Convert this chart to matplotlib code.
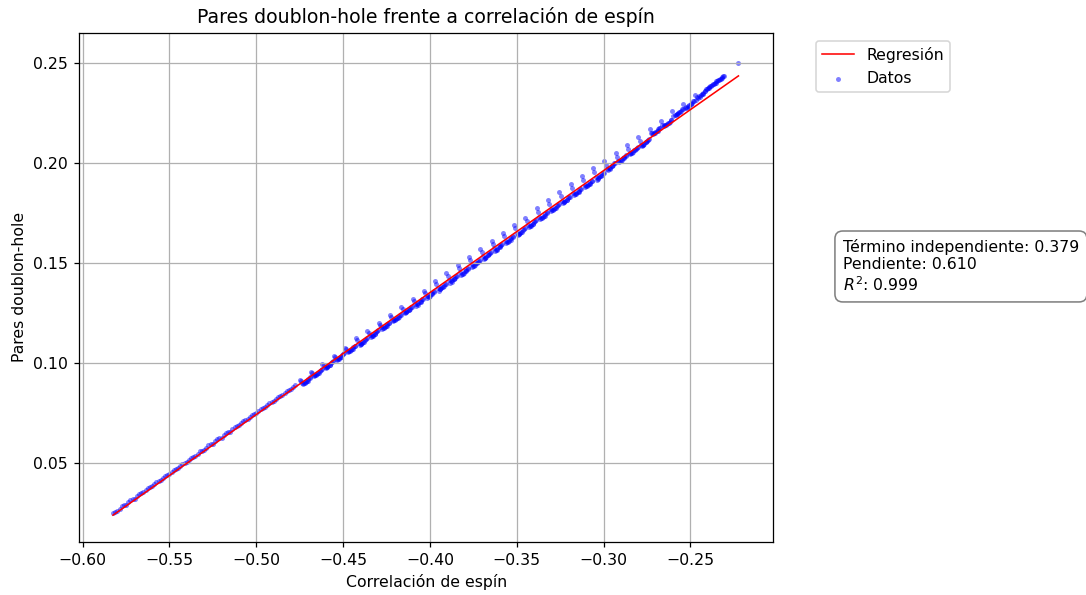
import matplotlib
matplotlib.use("Agg")
import matplotlib.pyplot as plt
import numpy as np

# --- Data ---
corr_espin = [
    -0.5825, -0.5800, -0.5775, -0.5750, -0.5725, -0.5700, -0.5675, -0.5650, -0.5625, -0.5600,
    -0.5575, -0.5550, -0.5525, -0.5500, -0.5475, -0.5450, -0.5425, -0.5400, -0.5375, -0.5350,
    -0.5325, -0.5300, -0.5275, -0.5250, -0.5225, -0.5200, -0.5175, -0.5150, -0.5125, -0.5100,
    -0.5075, -0.5050, -0.5025, -0.5000, -0.4975, -0.4950, -0.4925, -0.4900, -0.4875, -0.4850,
    -0.4825, -0.4800, -0.4775,
    -0.4750, -0.4742, -0.4734, -0.4724, -0.4716, -0.4708, -0.4700, -0.4693,
    -0.4685, -0.4677, -0.4669, -0.4659, -0.4651, -0.4643, -0.4635, -0.4628,
    -0.4620, -0.4612, -0.4604, -0.4594, -0.4586, -0.4578, -0.4570, -0.4563,
    -0.4555, -0.4547, -0.4539, -0.4529, -0.4521, -0.4513, -0.4505, -0.4498,
    -0.4490, -0.4482, -0.4474, -0.4464, -0.4456, -0.4448, -0.4440, -0.4433,
    -0.4425, -0.4417, -0.4409, -0.4399, -0.4391, -0.4383, -0.4375, -0.4368,
    -0.4360, -0.4352, -0.4344, -0.4334, -0.4326, -0.4318, -0.4310, -0.4303,
    -0.4295, -0.4287, -0.4279, -0.4269, -0.4261, -0.4253, -0.4245, -0.4238,
    -0.4230, -0.4222, -0.4214, -0.4204, -0.4196, -0.4188, -0.4180, -0.4173,
    -0.4165, -0.4157, -0.4149, -0.4139, -0.4131, -0.4123, -0.4115, -0.4108,
    -0.4100, -0.4092, -0.4084, -0.4074, -0.4066, -0.4058, -0.4050, -0.4043,
    -0.4035, -0.4027, -0.4019, -0.4009, -0.4001, -0.3993, -0.3985, -0.3978,
    -0.3970, -0.3962, -0.3954, -0.3944, -0.3936, -0.3928, -0.3920, -0.3913,
    -0.3905, -0.3897, -0.3889, -0.3879, -0.3871, -0.3863, -0.3855, -0.3848,
    -0.3840, -0.3832, -0.3824, -0.3814, -0.3806, -0.3798, -0.3790, -0.3783,
    -0.3775, -0.3767, -0.3759, -0.3749, -0.3741, -0.3733, -0.3725, -0.3718,
    -0.3710, -0.3702, -0.3694, -0.3684, -0.3676, -0.3668, -0.3660, -0.3653,
    -0.3645, -0.3637, -0.3629, -0.3619, -0.3611, -0.3603, -0.3595, -0.3588,
    -0.3580, -0.3572, -0.3564, -0.3554, -0.3546, -0.3538, -0.3530, -0.3523,
    -0.3515, -0.3507, -0.3499, -0.3489, -0.3481, -0.3473, -0.3465, -0.3458,
    -0.3450, -0.3442, -0.3434, -0.3424, -0.3416, -0.3408, -0.3400, -0.3393,
    -0.3385, -0.3377, -0.3369, -0.3359, -0.3351, -0.3343, -0.3335, -0.3328,
    -0.3320, -0.3312, -0.3304, -0.3294, -0.3286, -0.3278, -0.3270, -0.3263,
    -0.3255, -0.3247, -0.3239, -0.3229, -0.3221, -0.3213, -0.3205, -0.3198,
    -0.3190, -0.3182, -0.3174, -0.3164, -0.3156, -0.3148, -0.3140, -0.3133,
    -0.3125, -0.3117, -0.3109, -0.3099, -0.3091, -0.3083, -0.3075, -0.3068,
    -0.3060, -0.3052, -0.3044, -0.3034, -0.3026, -0.3018, -0.3010, -0.3003,
    -0.2995, -0.2987, -0.2979, -0.2969, -0.2961, -0.2953, -0.2945, -0.2938,
    -0.2930, -0.2922, -0.2914, -0.2904, -0.2896, -0.2888, -0.2880, -0.2873,
    -0.2865, -0.2857, -0.2849, -0.2839, -0.2831, -0.2823, -0.2815, -0.2808,
    -0.2800, -0.2792, -0.2784, -0.2774, -0.2766, -0.2758, -0.2750, -0.2743,
    -0.2735, -0.2727, -0.2719, -0.2709, -0.2701, -0.2693, -0.2685, -0.2678,
    -0.2670, -0.2662, -0.2654, -0.2644, -0.2636, -0.2628, -0.2620, -0.2613,
    -0.2605, -0.2597, -0.2589, -0.2579, -0.2571, -0.2563, -0.2555, -0.2548,
    -0.2540, -0.2532, -0.2524, -0.2514, -0.2506, -0.2498, -0.2490, -0.2483,
    -0.2475, -0.2467, -0.2459, -0.2449, -0.2441, -0.2433, -0.2425, -0.2418,
    -0.2410, -0.2400, -0.2390, -0.2380, -0.2370, -0.2360, -0.2350, -0.2340,
    -0.2330, -0.2320, -0.2310, -0.2306,
    -0.2223,
]

pares_dh = [
    0.0250, 0.0259, 0.0281, 0.0290, 0.0312, 0.0320, 0.0342, 0.0351, 0.0373, 0.0381,
    0.0403, 0.0412, 0.0434, 0.0442, 0.0464, 0.0472, 0.0495, 0.0503, 0.0525, 0.0533,
    0.0556, 0.0564, 0.0586, 0.0594, 0.0617, 0.0625, 0.0647, 0.0655, 0.0678, 0.0686,
    0.0708, 0.0716, 0.0739, 0.0747, 0.0769, 0.0777, 0.0800, 0.0808, 0.0830, 0.0838,
    0.0860, 0.0868, 0.0890,
    0.09125, 0.09074, 0.08993, 0.08984, 0.09032, 0.09101, 0.09170, 0.09233,
    0.09522, 0.09471, 0.09390, 0.09381, 0.09429, 0.09498, 0.09567, 0.09630,
    0.09918, 0.09867, 0.09786, 0.09777, 0.09825, 0.09894, 0.09963, 0.10026,
    0.10315, 0.10264, 0.10183, 0.10174, 0.10222, 0.10291, 0.10360, 0.10423,
    0.10711, 0.10660, 0.10579, 0.10570, 0.10618, 0.10687, 0.10756, 0.10819,
    0.11208, 0.11107, 0.10964, 0.10927, 0.10975, 0.11044, 0.11113, 0.11176,
    0.11604, 0.11503, 0.11360, 0.11323, 0.11371, 0.11440, 0.11509, 0.11572,
    0.12000, 0.11900, 0.11757, 0.11720, 0.11768, 0.11837, 0.11906, 0.11969,
    0.12397, 0.12296, 0.12153, 0.12116, 0.12164, 0.12233, 0.12302, 0.12365,
    0.12794, 0.12693, 0.12550, 0.12513, 0.12561, 0.12630, 0.12699, 0.12762,
    0.13190, 0.13089, 0.12946, 0.12909, 0.12957, 0.13026, 0.13095, 0.13158,
    0.13587, 0.13486, 0.13343, 0.13306, 0.13354, 0.13423, 0.13492, 0.13555,
    0.14083, 0.13932, 0.13727, 0.13662, 0.13710, 0.13779, 0.13848, 0.13911,
    0.14480, 0.14329, 0.14124, 0.14059, 0.14107, 0.14176, 0.14245, 0.14308,
    0.14876, 0.14725, 0.14520, 0.14455, 0.14503, 0.14572, 0.14641, 0.14704,
    0.15273, 0.15122, 0.14917, 0.14852, 0.14900, 0.14969, 0.15038, 0.15101,
    0.15669, 0.15518, 0.15313, 0.15248, 0.15296, 0.15365, 0.15434, 0.15497,
    0.16066, 0.15915, 0.15710, 0.15645, 0.15693, 0.15762, 0.15831, 0.15894,
    0.16462, 0.16311, 0.16106, 0.16041, 0.16089, 0.16158, 0.16227, 0.16290,
    0.16859, 0.16708, 0.16503, 0.16438, 0.16486, 0.16555, 0.16624, 0.16687,
    0.17255, 0.17104, 0.16899, 0.16834, 0.16882, 0.16951, 0.17020, 0.17083,
    0.17732, 0.17541, 0.17296, 0.17231, 0.17279, 0.17348, 0.17417, 0.17480,
    0.18128, 0.17937, 0.17692, 0.17627, 0.17675, 0.17744, 0.17813, 0.17876,
    0.18525, 0.18334, 0.18089, 0.18024, 0.18072, 0.18141, 0.18210, 0.18273,
    0.18921, 0.18730, 0.18485, 0.18420, 0.18468, 0.18537, 0.18606, 0.18669,
    0.19318, 0.19127, 0.18882, 0.18817, 0.18865, 0.18934, 0.19003, 0.19066,
    0.19714, 0.19523, 0.19278, 0.19213, 0.19261, 0.19330, 0.19399, 0.19462,
    0.20081, 0.19905, 0.19705, 0.19710, 0.19758, 0.19827, 0.19896, 0.19959,
    0.20477, 0.20301, 0.20101, 0.20106, 0.20154, 0.20223, 0.20292, 0.20355,
    0.20874, 0.20698, 0.20498, 0.20503, 0.20551, 0.20620, 0.20689, 0.20752,
    0.21270, 0.21094, 0.20894, 0.20899, 0.20947, 0.21016, 0.21085, 0.21148,
    0.21667, 0.21491, 0.21465, 0.21476, 0.21524, 0.21593, 0.21662, 0.21725,
    0.22063, 0.21887, 0.21861, 0.21872, 0.21920, 0.21989, 0.22058, 0.22121,
    0.22560, 0.22334, 0.22408, 0.22419, 0.22467, 0.22536, 0.22605, 0.22668,
    0.22956, 0.22730, 0.22804, 0.22815, 0.22863, 0.22932, 0.23001, 0.23064,
    0.23403, 0.23152, 0.23301, 0.23312, 0.23360, 0.23429, 0.23498, 0.23561,
    0.2370, 0.2371, 0.2378, 0.2385, 0.2392, 0.2399, 0.2407, 0.2413,
    0.2420, 0.2426, 0.2432, 0.2433,
    0.2500,
]

# Extra points that make the dense band and the short dashes thicker
corr_espin_extra = [
    -0.5812, -0.5787, -0.5762, -0.5737, -0.5712, -0.5687, -0.5662, -0.5637, -0.5612, -0.5587,
    -0.5562, -0.5537, -0.5512, -0.5487, -0.5462, -0.5437, -0.5412, -0.5387, -0.5362, -0.5337,
    -0.5312, -0.5287, -0.5262, -0.5237, -0.5212, -0.5187, -0.5162, -0.5137, -0.5112, -0.5087,
    -0.5062, -0.5037, -0.5012, -0.4987, -0.4962, -0.4937, -0.4912, -0.4887, -0.4862, -0.4837,
    -0.4812, -0.4787,
    -0.4730, -0.4720, -0.4704, -0.4689, -0.4665, -0.4655, -0.4639, -0.4624,
    -0.4600, -0.4590, -0.4574, -0.4559, -0.4535, -0.4525, -0.4509, -0.4494,
    -0.4470, -0.4460, -0.4444, -0.4429, -0.4405, -0.4395, -0.4379, -0.4364,
    -0.4340, -0.4330, -0.4314, -0.4299, -0.4275, -0.4265, -0.4249, -0.4234,
    -0.4210, -0.4200, -0.4184, -0.4169, -0.4145, -0.4135, -0.4119, -0.4104,
    -0.4080, -0.4070, -0.4054, -0.4039, -0.4015, -0.4005, -0.3989, -0.3974,
    -0.3950, -0.3940, -0.3924, -0.3909, -0.3885, -0.3875, -0.3859, -0.3844,
    -0.3820, -0.3810, -0.3794, -0.3779, -0.3755, -0.3745, -0.3729, -0.3714,
    -0.3690, -0.3680, -0.3664, -0.3649, -0.3625, -0.3615, -0.3599, -0.3584,
    -0.3560, -0.3550, -0.3534, -0.3519, -0.3495, -0.3485, -0.3469, -0.3454,
    -0.3430, -0.3420, -0.3404, -0.3389, -0.3365, -0.3355, -0.3339, -0.3324,
    -0.3300, -0.3290, -0.3274, -0.3259, -0.3235, -0.3225, -0.3209, -0.3194,
    -0.3170, -0.3160, -0.3144, -0.3129, -0.3105, -0.3095, -0.3079, -0.3064,
    -0.3040, -0.3030, -0.3014, -0.2999, -0.2975, -0.2965, -0.2949, -0.2934,
    -0.2910, -0.2900, -0.2884, -0.2869, -0.2845, -0.2835, -0.2819, -0.2804,
    -0.2780, -0.2770, -0.2754, -0.2739, -0.2715, -0.2705, -0.2689, -0.2674,
    -0.2650, -0.2640, -0.2624, -0.2609, -0.2585, -0.2575, -0.2559, -0.2544,
    -0.2520, -0.2510, -0.2494, -0.2479, -0.2455, -0.2445, -0.2429, -0.2414,
    -0.2405, -0.2395, -0.2385, -0.2375, -0.2365, -0.2355, -0.2345, -0.2335,
    -0.2325, -0.2315,
]

pares_dh_extra = [
    0.02547, 0.02699, 0.02852, 0.03004, 0.03157, 0.03309, 0.03462, 0.03614, 0.03767, 0.03919,
    0.04072, 0.04224, 0.04377, 0.04529, 0.04682, 0.04834, 0.04987, 0.05139, 0.05292, 0.05444,
    0.05597, 0.05749, 0.05902, 0.06054, 0.06207, 0.06359, 0.06512, 0.06664, 0.06817, 0.06969,
    0.07122, 0.07274, 0.07427, 0.07579, 0.07732, 0.07884, 0.08037, 0.08189, 0.08342, 0.08494,
    0.08647, 0.08799,
    0.08927, 0.08978, 0.09096, 0.09267, 0.09324, 0.09375, 0.09493, 0.09664,
    0.09720, 0.09771, 0.09889, 0.10060, 0.10117, 0.10168, 0.10286, 0.10457,
    0.10513, 0.10564, 0.10682, 0.10853, 0.10870, 0.10921, 0.11039, 0.11210,
    0.11266, 0.11317, 0.11435, 0.11606, 0.11663, 0.11714, 0.11832, 0.12003,
    0.12059, 0.12110, 0.12228, 0.12399, 0.12456, 0.12507, 0.12625, 0.12796,
    0.12852, 0.12903, 0.13021, 0.13192, 0.13249, 0.13300, 0.13418, 0.13589,
    0.13605, 0.13656, 0.13774, 0.13945, 0.14002, 0.14053, 0.14171, 0.14342,
    0.14398, 0.14449, 0.14567, 0.14738, 0.14795, 0.14846, 0.14964, 0.15135,
    0.15191, 0.15242, 0.15360, 0.15531, 0.15588, 0.15639, 0.15757, 0.15928,
    0.15984, 0.16035, 0.16153, 0.16324, 0.16381, 0.16432, 0.16550, 0.16721,
    0.16777, 0.16828, 0.16946, 0.17117, 0.17174, 0.17225, 0.17343, 0.17514,
    0.17570, 0.17621, 0.17739, 0.17910, 0.17967, 0.18018, 0.18136, 0.18307,
    0.18363, 0.18414, 0.18532, 0.18703, 0.18760, 0.18811, 0.18929, 0.19100,
    0.19156, 0.19207, 0.19325, 0.19496, 0.19653, 0.19704, 0.19822, 0.19993,
    0.20049, 0.20100, 0.20218, 0.20389, 0.20446, 0.20497, 0.20615, 0.20786,
    0.20842, 0.20893, 0.21011, 0.21182, 0.21419, 0.21470, 0.21588, 0.21759,
    0.21815, 0.21866, 0.21984, 0.22155, 0.22362, 0.22413, 0.22531, 0.22702,
    0.22758, 0.22809, 0.22927, 0.23098, 0.23255, 0.23306, 0.23424, 0.23595,
    0.2367, 0.2374, 0.2381, 0.2388, 0.2394, 0.2401, 0.2408, 0.2414,
    0.2421, 0.2427,
]

intercepto = 0.379
pendiente = 0.610
r2 = 0.999

# --- Figure ---
DPI = 113
fig = plt.figure(figsize=(1086 / DPI, 595 / DPI), dpi=DPI)
ax = fig.add_subplot(111)
fig.subplots_adjust(left=0.0727, right=0.7121, bottom=0.0896, top=0.9450)

x = np.array(corr_espin + corr_espin_extra)
y = np.array(pares_dh + pares_dh_extra)
x_line = np.array([x.min(), x.max()])
ax.plot(x_line, intercepto + pendiente * x_line, color='red', label='Regresión', linewidth=1.0)
ax.scatter(x, y, s=10, color='blue', alpha=0.5, linewidths=0, label='Datos')

ax.set_xlim(-0.6021, -0.2022)
ax.set_ylim(0.0104, 0.2650)
ax.set_title('Pares doublon-hole frente a correlación de espín', fontsize=12)
ax.set_xlabel('Correlación de espín', fontsize=10)
ax.set_ylabel('Pares doublon-hole', fontsize=10)
ax.grid(True)

ax.legend(loc='upper left', bbox_to_anchor=(1.05, 1), fontsize=10)

texto = (f'Término independiente: {intercepto:.3f}\n'
         f'Pendiente: {pendiente:.3f}\n'
         f'$R^2$: {r2:.3f}')
ax.text(1.1, 0.595, texto, transform=ax.transAxes, fontsize=10, va='top', ha='left',
        bbox=dict(boxstyle='round,pad=0.5', facecolor='white', alpha=0.5))

fig.savefig('out.png', dpi=DPI)
